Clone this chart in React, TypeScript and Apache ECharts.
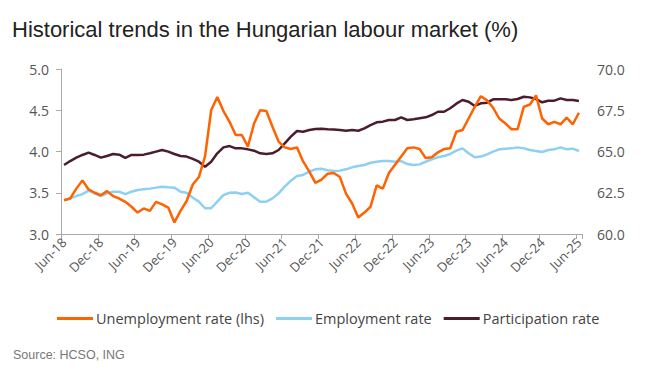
import React, { useEffect, useRef } from "react";
import * as echarts from "echarts";

const months = ["Jan", "Feb", "Mar", "Apr", "May", "Jun", "Jul", "Aug", "Sep", "Oct", "Nov", "Dec"];
const categories: string[] = [];
for (let y = 2018; y <= 2025; y++) {
  for (let m = 0; m < 12; m++) {
    if (y === 2018 && m < 5) continue;
    if (y === 2025 && m > 5) continue;
    categories.push(`${months[m]}-${String(y).slice(2)}`);
  }
}

const unemployment = [
  3.41, 3.43, 3.55, 3.65, 3.54, 3.5, 3.47, 3.52, 3.46, 3.43, 3.39, 3.33,
  3.26, 3.31, 3.28, 3.39, 3.36, 3.32, 3.14, 3.28, 3.4, 3.6, 3.69, 3.94,
  4.5, 4.66, 4.49, 4.36, 4.2, 4.2, 4.06, 4.34, 4.5, 4.49, 4.3, 4.12,
  4.05, 4.03, 4.05, 3.88, 3.76, 3.62, 3.66, 3.73, 3.74, 3.69, 3.49, 3.37,
  3.2, 3.26, 3.33, 3.59, 3.55, 3.74, 3.84, 3.94, 4.04, 4.05, 4.03, 3.92,
  3.93, 3.99, 4.03, 4.04, 4.24, 4.26, 4.4, 4.54, 4.67, 4.62, 4.53, 4.4,
  4.34, 4.27, 4.27, 4.54, 4.57, 4.68, 4.4, 4.33, 4.36, 4.33, 4.41, 4.33,
  4.47,
];

const employment = [
  62.06, 62.16, 62.3, 62.42, 62.63, 62.46, 62.3, 62.46, 62.56, 62.56, 62.42, 62.56,
  62.67, 62.71, 62.75, 62.81, 62.87, 62.83, 62.81, 62.56, 62.5, 62.2, 61.96, 61.56,
  61.56, 61.96, 62.36, 62.5, 62.52, 62.42, 62.5, 62.22, 61.96, 61.96, 62.16, 62.46,
  62.87, 63.23, 63.52, 63.58, 63.78, 63.92, 63.95, 63.86, 63.82, 63.84, 63.92, 64.04,
  64.12, 64.18, 64.32, 64.38, 64.42, 64.42, 64.38, 64.42, 64.24, 64.18, 64.22, 64.38,
  64.53, 64.65, 64.73, 64.85, 65.05, 65.19, 64.89, 64.65, 64.69, 64.83, 64.99, 65.13,
  65.17, 65.19, 65.25, 65.19, 65.09, 65.03, 64.97, 65.09, 65.13, 65.25, 65.13, 65.17,
  65.03,
];

const participation = [
  64.18, 64.42, 64.63, 64.79, 64.93, 64.79, 64.63, 64.73, 64.85, 64.81, 64.61, 64.79,
  64.79, 64.81, 64.89, 64.99, 65.09, 64.99, 64.85, 64.73, 64.69, 64.55, 64.38, 64.08,
  64.38, 64.89, 65.25, 65.33, 65.19, 65.19, 65.13, 65.05, 64.89, 64.85, 64.89, 65.09,
  65.49, 65.9, 66.24, 66.2, 66.3, 66.36, 66.38, 66.35, 66.34, 66.3, 66.26, 66.3,
  66.26, 66.4, 66.6, 66.77, 66.81, 66.91, 66.91, 67.07, 66.91, 66.95, 67.01, 67.07,
  67.21, 67.41, 67.41, 67.62, 67.9, 68.12, 68.02, 67.76, 67.92, 67.96, 68.16, 68.16,
  68.16, 68.12, 68.18, 68.32, 68.28, 68.18, 67.98, 68.08, 68.08, 68.22, 68.12, 68.12,
  68.06,
];

const seriesNames = ["Unemployment rate (lhs)", "Employment rate", "Participation rate"];
const colors = ["#FF6200", "#8DD0F2", "#4B1B2E"];

const titleText = "Historical trends in the Hungarian labour market (%)";
const sourceText = "Source: HCSO, ING";

export default function App() {
  const ref = useRef<HTMLDivElement>(null);
  useEffect(() => {
    if (!ref.current) return;
    const chart = echarts.init(ref.current, null, { renderer: "svg" });
    const axisFont = "'Open Sans', 'Noto Sans', sans-serif";
    chart.setOption({
      animation: false,
      backgroundColor: "#ffffff",
      title: {
        text: titleText,
        left: 7,
        top: 13,
        textStyle: {
          fontFamily: "'Liberation Sans', Arial, sans-serif",
          fontSize: 22,
          fontWeight: "normal",
          color: "#222222",
        },
      },
      graphic: [
        {
          type: "text",
          left: 13,
          top: 348,
          style: {
            text: sourceText,
            font: "12.5px 'Liberation Sans', Arial, sans-serif",
            fill: "#777777",
          },
        },
      ],
      legend: {
        left: 52,
        top: 306,
        icon: "rect",
        itemWidth: 36,
        itemHeight: 3,
        itemGap: 12,
        textStyle: { fontFamily: axisFont, fontSize: 14.5, color: "#444444", padding: [0, 0, 0, -2] },
        data: seriesNames,
      },
      grid: { left: 61, right: 68, top: 69, bottom: 149, containLabel: false },
      xAxis: {
        type: "category",
        data: categories,
        boundaryGap: true,
        axisLine: { lineStyle: { color: "#aaaaaa", width: 1 } },
        axisTick: { show: true, length: 5, interval: 5, lineStyle: { color: "#aaaaaa" } },
        axisLabel: {
          interval: 5,
          rotate: 45,
          margin: 6,
          fontFamily: axisFont,
          fontSize: 13,
          color: "#555555",
        },
        splitLine: { show: false },
      },
      yAxis: [
        {
          type: "value",
          min: 3,
          max: 5,
          interval: 0.5,
          position: "left",
          axisLine: { show: true, lineStyle: { color: "#aaaaaa" } },
          axisTick: { show: true, length: 5, lineStyle: { color: "#aaaaaa" } },
          axisLabel: {
            margin: 12,
            fontFamily: axisFont,
            fontSize: 14,
            color: "#555555",
            formatter: (v: number) => v.toFixed(1),
          },
          splitLine: { show: false },
        },
        {
          type: "value",
          min: 60,
          max: 70,
          interval: 2.5,
          position: "right",
          axisLine: { show: false },
          axisTick: { show: false },
          axisLabel: {
            margin: 15,
            fontFamily: axisFont,
            fontSize: 14,
            color: "#555555",
            formatter: (v: number) => v.toFixed(1),
          },
          splitLine: { show: false },
        },
      ],
      series: [
        {
          name: seriesNames[0],
          type: "line",
          yAxisIndex: 0,
          data: unemployment,
          symbol: "none",
          z: 4,
          lineStyle: { color: colors[0], width: 2.5 },
          itemStyle: { color: colors[0] },
        },
        {
          name: seriesNames[1],
          type: "line",
          yAxisIndex: 1,
          data: employment,
          symbol: "none",
          z: 2,
          lineStyle: { color: colors[1], width: 2.5 },
          itemStyle: { color: colors[1] },
        },
        {
          name: seriesNames[2],
          type: "line",
          yAxisIndex: 1,
          data: participation,
          symbol: "none",
          z: 3,
          lineStyle: { color: colors[2], width: 2.5 },
          itemStyle: { color: colors[2] },
        },
      ],
    });
    return () => chart.dispose();
  }, []);
  return (
    <div
      ref={ref}
      style={{ position: "fixed", left: 0, top: 0, width: 650, height: 383, background: "#fff" }}
    />
  );
}
